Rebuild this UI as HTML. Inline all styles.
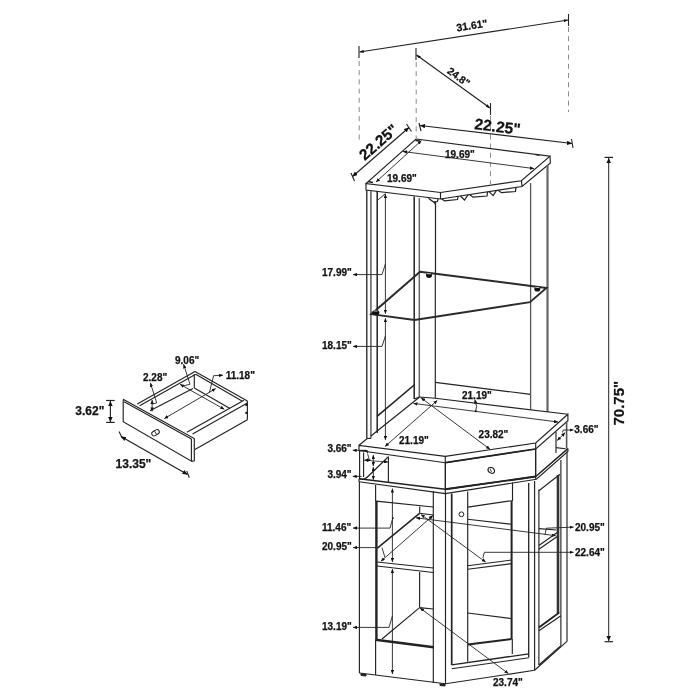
<!DOCTYPE html>
<html><head><meta charset="utf-8"><style>
html,body{margin:0;padding:0;background:#fff;width:700px;height:700px;overflow:hidden}
svg{display:block}
text{font-family:"Liberation Sans",sans-serif;font-weight:bold;fill:#111;stroke:#111;stroke-width:0.25;letter-spacing:0px}
.tx{opacity:0.995}
</style></head><body>
<svg width="700" height="700" viewBox="0 0 700 700">
<defs>
<marker id="ar" viewBox="0 0 10 10" refX="10" refY="5" markerWidth="5" markerHeight="4.5" markerUnits="userSpaceOnUse" orient="auto-start-reverse" preserveAspectRatio="none"><path d="M0,0 L10,5 L0,10 z" fill="#111"/></marker>
<marker id="at" viewBox="0 0 10 10" refX="10" refY="5" markerWidth="4.2" markerHeight="3.2" markerUnits="userSpaceOnUse" orient="auto-start-reverse" preserveAspectRatio="none"><path d="M0,0 L10,5 L0,10 z" fill="#111"/></marker>
<marker id="as" viewBox="0 0 10 10" refX="10" refY="5" markerWidth="4" markerHeight="3.5" markerUnits="userSpaceOnUse" orient="auto-start-reverse" preserveAspectRatio="none"><path d="M0,0 L10,5 L0,10 z" fill="#111"/></marker>
</defs>
<g fill="none" stroke="#222" stroke-width="1.15" stroke-linejoin="miter">

<!-- ============ TOP DIMENSIONS ============ -->
<g stroke="#666" stroke-dasharray="5,4.2" stroke-width="0.75">
<line x1="359.2" y1="61" x2="359.2" y2="142"/>
<line x1="416.2" y1="62" x2="416.2" y2="138"/>
<line x1="568.5" y1="27" x2="568.5" y2="112"/>
<line x1="490.5" y1="116" x2="490.5" y2="184"/>
</g>
<g stroke-width="1.1">
<line x1="359" y1="46" x2="359" y2="58"/>
<line x1="568.5" y1="14" x2="568.5" y2="26"/>
<line x1="416" y1="48" x2="416" y2="60"/>
<line x1="490.5" y1="103" x2="490.5" y2="115"/>
<line x1="351" y1="173" x2="354.5" y2="181"/>
<line x1="406.5" y1="124" x2="411.5" y2="131.5"/>
<line x1="419" y1="123" x2="421" y2="131"/>
<line x1="571.5" y1="139" x2="573" y2="148"/>
</g>
<line x1="359.5" y1="52" x2="568" y2="20" marker-start="url(#at)" marker-end="url(#at)"/>
<line x1="416.5" y1="55" x2="490" y2="108" marker-start="url(#at)" marker-end="url(#at)"/>
<line x1="352.5" y1="176.5" x2="409" y2="127.5" marker-start="url(#ar)" marker-end="url(#ar)"/>
<line x1="420" y1="125.5" x2="572" y2="143.5" marker-start="url(#ar)" marker-end="url(#ar)"/>

<!-- ============ TOP SHELF ============ -->
<path d="M416,139 L550,156.2 L521.4,180.7 L440.5,192.5 L366,183.6 Z"/>
<path d="M366,183.6 L366,190 L440.5,199 L522,186.5 L550.4,162.9 L550,156.2"/>
<line x1="440.5" y1="192.5" x2="440.5" y2="199"/>
<line x1="521.4" y1="180.7" x2="522" y2="186.5"/>
<line x1="376" y1="182" x2="421.5" y2="140.5" marker-start="url(#as)" marker-end="url(#as)" stroke-width="0.9"/>
<line x1="403" y1="151.5" x2="534" y2="168.6" marker-start="url(#as)" marker-end="url(#as)" stroke-width="0.9"/>
<path d="M368,181.5 L373,182.5 M415.5,140.5 L420,141 M535.5,154.5 L539.5,155.2" stroke-width="1.6"/>
<!-- wine rack -->
<g stroke-width="1.2">
<path d="M428.5,198.3 L433.5,202 L437.5,201.5 L438,198.8"/>
<path d="M434,202 L435.5,204.5"/>
<line x1="435.5" y1="201" x2="435.5" y2="273"/>
<path d="M441.5,198.8 L444.5,200.8 L457.5,199.5 L458.2,196.3"/>
<path d="M460.5,196 L464.5,200 L468,194.9"/>
<path d="M469.5,194.6 L473,197.2 L487,196 L487.6,191.8"/>
<path d="M489,191.6 L493.2,195.6 L496.5,190.4"/>
<path d="M498,190.2 L501.5,192.7 L515.5,191.5 L516,187.4"/>
</g>

<!-- ============ HUTCH POSTS ============ -->
<line x1="366.8" y1="190" x2="366.8" y2="438.4" stroke-width="1.3"/>
<line x1="370.9" y1="190.5" x2="370.9" y2="438.4" stroke="#666" stroke-width="1.6"/>
<line x1="377.2" y1="191" x2="377.2" y2="433" stroke-width="1.5"/>
<line x1="366.8" y1="438.4" x2="370.9" y2="438.4"/>
<line x1="377" y1="200.7" x2="385.5" y2="193.6" stroke-width="0.9"/>
<!-- 17.99 / 18.15 dim -->
<line x1="385.4" y1="194" x2="385.4" y2="313.7" stroke-width="0.9" marker-start="url(#as)" marker-end="url(#as)"/>
<line x1="385.4" y1="318.2" x2="385.4" y2="440" stroke-width="0.9" marker-start="url(#as)" marker-end="url(#as)"/>
<path d="M385.4,264 L382,274.6 L353,274.6" stroke-width="0.9" marker-end="url(#as)"/>
<path d="M385.4,336 L382,346.4 L353,346.4" stroke-width="0.9" marker-end="url(#as)"/>
<!-- middle post -->
<line x1="414.2" y1="196.4" x2="414.2" y2="399" stroke-width="1.5"/>
<line x1="419.3" y1="198" x2="419.3" y2="397" stroke="#666" stroke-width="1.5"/>
<line x1="435.3" y1="273" x2="435.3" y2="398.3"/>
<line x1="377" y1="416.4" x2="414.2" y2="385" stroke-width="1.6"/>
<line x1="435.3" y1="382.4" x2="530.7" y2="394.4"/>
<!-- right posts -->
<line x1="530.6" y1="183" x2="530.6" y2="410" stroke="#555" stroke-width="1.3"/>
<line x1="547.5" y1="165" x2="547.5" y2="412" stroke="#666" stroke-width="2.2"/>

<!-- glass shelf -->
<path d="M420,271.7 L546.4,288 L530,302.1 L414.5,320 L371.2,314.2 Z" stroke-width="1.9" stroke="#2a2a2a"/>
<g fill="#111" stroke="none">
<ellipse cx="429" cy="275.3" rx="3" ry="2.6"/>
<ellipse cx="537.3" cy="289" rx="3" ry="2.6"/>
<ellipse cx="375.8" cy="312.6" rx="3.6" ry="2.6"/>
<path d="M427,273.6 L431,273.8 M535.3,287.3 L539.3,287.5 M373.5,310.9 L377.5,311.1" stroke="#ddd" stroke-width="0.9"/>
</g>

<!-- ============ COUNTER ============ -->
<path d="M359,445.3 L367,438.8 M370.9,436 L419.3,397.3"/>
<path d="M414.2,399 L419.3,397 L435.3,398.3 L567.9,414.3"/>
<path d="M567.9,414.3 L535.7,443 L445.3,456.3 L359,445.5 L359,450.5 L445.3,462.7 L535.7,449 L567.9,420.7 Z"/>
<line x1="445.3" y1="456.3" x2="445.3" y2="462.7"/>
<line x1="535.7" y1="443" x2="535.7" y2="449"/>
<!-- counter dims -->
<line x1="413.5" y1="403.4" x2="558" y2="422" stroke-width="0.9" marker-start="url(#as)" marker-end="url(#as)"/>
<line x1="437.3" y1="400.4" x2="385" y2="446.5" stroke-width="0.9" marker-start="url(#as)" marker-end="url(#as)"/>
<line x1="421" y1="397.8" x2="490" y2="449.3" stroke-width="0.9" marker-start="url(#as)" marker-end="url(#as)"/>
<path d="M475.7,411 L476.6,406.5 L474.8,399.5" stroke-width="0.9" marker-end="url(#as)"/>
<circle cx="475.7" cy="411.2" r="1" fill="#111" stroke="none"/>

<!-- drawer & under counter -->
<path d="M445.3,462.7 L445.3,489.3 M535.7,449 L535.7,477" stroke-width="1.4"/>
<line x1="445.3" y1="462.7" x2="535.7" y2="449" stroke-width="1.7"/>
<line x1="445.3" y1="489.3" x2="535.7" y2="476.5" stroke-width="1.9"/>
<line x1="512.5" y1="482.5" x2="512.5" y2="501"/>
<path d="M359,478.7 L445.3,489.3 L535.7,476.5 L567.9,448.6" stroke-width="1.4"/>
<path d="M359,481.8 L445.3,493.6 L536.4,479.3 L567.9,451.4 L567.9,448.6"/>
<line x1="359" y1="478.7" x2="359" y2="481.8"/>
<line x1="445.3" y1="489.3" x2="445.3" y2="493.6"/>
<line x1="535.7" y1="476.5" x2="535.7" y2="479.3"/>
<!-- knob -->
<path d="M488.5,468 Q487,470.5 489.5,472.5 L492.5,473.5 Q495,473 494.5,470.5 Q494,468 491,467.3 Z" stroke-width="1.1"/>
<path d="M490,468.5 L491.5,472" stroke-width="0.8"/>
<!-- left under-counter open section -->
<line x1="359.6" y1="451" x2="359.6" y2="479"/>
<line x1="363.6" y1="452.5" x2="363.6" y2="477"/>
<path d="M359,450.6 L367,450.6 L367.5,453"/>
<path d="M359.6,478.7 Q364,481 369,475.5 L388.1,457" stroke-width="1.2"/>
<line x1="388.4" y1="456.4" x2="388.4" y2="482"/>
<line x1="373.3" y1="455" x2="373.3" y2="466" stroke-width="0.9" marker-start="url(#as)" marker-end="url(#as)"/>
<line x1="373.3" y1="467" x2="373.3" y2="479.8" stroke-width="0.9" marker-start="url(#as)" marker-end="url(#as)"/>
<line x1="364.2" y1="460.2" x2="371" y2="460.2" stroke-width="0.9" marker-start="url(#as)" marker-end="url(#as)"/>
<line x1="371" y1="460.8" x2="388" y2="462" stroke-width="0.8" marker-end="url(#as)"/>
<path d="M367.6,453.6 L369.3,460.1" stroke-width="0.9"/>
<path d="M352.7,450.3 L366.4,450.3" stroke-width="0.9" marker-start="url(#as)"/>
<path d="M352.7,476.4 L361.7,476.4" stroke-width="0.9" marker-start="url(#as)"/>
<!-- right under-counter -->
<line x1="556" y1="431.7" x2="556" y2="453"/>
<line x1="566.6" y1="421.5" x2="566.6" y2="448.5" stroke="#555" stroke-width="1.6"/>
<line x1="556" y1="447.6" x2="565.6" y2="448.8"/>
<path d="M563.2,430 L573.5,430" stroke-width="0.9" marker-end="url(#as)"/>
<line x1="565.2" y1="432.6" x2="557.2" y2="440.5" stroke-width="0.9" marker-start="url(#as)" marker-end="url(#as)"/>
<line x1="563.2" y1="430" x2="562.5" y2="432.5" stroke-width="0.9"/>

<!-- ============ LOWER CABINET ============ -->
<!-- left wing -->
<line x1="359.4" y1="481.5" x2="359.4" y2="673"/>
<line x1="375.6" y1="485" x2="375.6" y2="501"/>
<line x1="375.6" y1="640" x2="375.6" y2="675"/>
<line x1="376.4" y1="501" x2="376.4" y2="641" stroke-width="2.4"/>
<line x1="376" y1="501.1" x2="433.3" y2="507"/>
<line x1="375.5" y1="639.8" x2="433.8" y2="647.2" stroke-width="2.5"/>
<line x1="433.3" y1="491" x2="433.3" y2="683"/>
<path d="M359.4,673 L445.5,683.8"/>
<path d="M361,673.5 L361,675.5 L366,676 L366,674" stroke-width="1" fill="#222"/>
<!-- left interior -->
<line x1="377" y1="562" x2="433.3" y2="568"/>
<line x1="377" y1="566" x2="433.3" y2="572.5"/>
<path d="M419.7,506.4 L419.7,513.3 L433.3,515"/>
<line x1="377.4" y1="548.1" x2="419.5" y2="513.3" stroke-width="1.5"/>
<line x1="419.6" y1="572" x2="419.6" y2="607.6"/>
<line x1="419.6" y1="607.6" x2="433.3" y2="609"/>
<line x1="382" y1="639" x2="419.6" y2="607.6"/>
<!-- 11.46 / 13.19 dim -->
<line x1="392.4" y1="488.5" x2="392.4" y2="562" stroke-width="0.9" marker-start="url(#as)" marker-end="url(#as)"/>
<line x1="392.4" y1="569" x2="392.4" y2="674" stroke-width="0.9" marker-start="url(#as)" marker-end="url(#as)"/>
<path d="M392.9,518 L390,528.1 L353,528.1" stroke-width="0.9" marker-end="url(#as)"/>
<circle cx="392.9" cy="517.9" r="0.9" fill="#222" stroke="none"/>
<path d="M392.4,616 L389,627.4 L353,627.4" stroke-width="0.9" marker-end="url(#as)"/>
<path d="M377.5,547.6 L353,547.6" stroke-width="0.9" marker-end="url(#as)"/>
<line x1="380.9" y1="561.3" x2="432.9" y2="515.6" stroke-width="0.9" marker-start="url(#as)" marker-end="url(#as)"/>
<line x1="382" y1="547.6" x2="384.9" y2="557.3" stroke-width="0.9"/>
<!-- 20.95/22.64/23.74 dims -->
<line x1="421" y1="514.5" x2="485.7" y2="562.1" stroke-width="0.9" marker-start="url(#as)" marker-end="url(#as)"/>
<line x1="416" y1="517.8" x2="555.7" y2="535.7" stroke-width="0.9" marker-start="url(#as)" marker-end="url(#as)"/>
<line x1="420" y1="608" x2="508.4" y2="673.6" stroke-width="0.9" marker-start="url(#as)" marker-end="url(#as)"/>
<path d="M482.9,557.9 L484.3,552.3 L573.6,552.3" stroke-width="0.9" marker-end="url(#as)"/>
<path d="M545,534.3 L546.4,528.2 L573.6,527.1" stroke-width="0.9" marker-end="url(#as)"/>

<!-- front door -->
<line x1="445.5" y1="493.6" x2="445.5" y2="683.8"/>
<line x1="451.7" y1="493.6" x2="451.7" y2="665" stroke-width="1.7"/>
<line x1="467.7" y1="491.4" x2="467.7" y2="661.8"/>
<line x1="511.6" y1="500.7" x2="511.6" y2="639" stroke-width="2"/>
<line x1="512.3" y1="639" x2="512.3" y2="654"/>
<line x1="528.7" y1="482.9" x2="528.7" y2="657.5" stroke-width="1.3"/>
<line x1="534.6" y1="481" x2="534.6" y2="670.3"/>
<line x1="467.7" y1="507.1" x2="511.6" y2="500.7"/>
<line x1="467.7" y1="519.3" x2="511.6" y2="524.3"/>
<line x1="467.7" y1="565.7" x2="511.6" y2="560"/>
<line x1="467.7" y1="569.3" x2="511.6" y2="563.6"/>
<line x1="467.7" y1="613" x2="511" y2="618.5"/>
<line x1="468" y1="644.5" x2="511.6" y2="639" stroke-width="2"/>
<line x1="451.7" y1="664.9" x2="528.7" y2="653.9" stroke-width="1.4"/>
<line x1="451.7" y1="668.8" x2="528.7" y2="657.8"/>
<line x1="445.5" y1="683.8" x2="534.6" y2="670.3"/>
<circle cx="461.4" cy="514.3" r="2.4" stroke-width="1"/>
<path d="M440,683.5 L440,685.5 L445,686 L445,684" stroke-width="1" fill="#222"/>

<!-- right wing -->
<line x1="538.9" y1="489.5" x2="538.9" y2="665"/>
<line x1="558" y1="475" x2="558" y2="613" stroke-width="2.6" stroke="#333"/>
<line x1="560.9" y1="460" x2="560.9" y2="645.7"/>
<line x1="567" y1="451.4" x2="567" y2="641.4"/>
<line x1="534.6" y1="670.3" x2="567" y2="641.4"/>
<line x1="538.9" y1="665" x2="560.9" y2="645.7"/>
<line x1="538.9" y1="490.7" x2="560" y2="474.3"/>
<line x1="538.9" y1="627.5" x2="559.3" y2="612.5" stroke-width="1.8"/>
<line x1="538.9" y1="630.7" x2="560.9" y2="615.7"/>
<line x1="538.9" y1="528.6" x2="556.4" y2="530"/>
<line x1="538.9" y1="549.3" x2="558" y2="536" stroke-width="1.2"/>
<line x1="538.9" y1="545.5" x2="558" y2="532"/>

<!-- ============ 70.75 ============ -->
<line x1="604.6" y1="157.4" x2="613" y2="157.4" stroke-width="1.2"/>
<line x1="604.6" y1="641.7" x2="613" y2="641.7" stroke-width="1.2"/>
<line x1="608.7" y1="158" x2="608.7" y2="641" stroke-width="1" marker-start="url(#ar)" marker-end="url(#ar)"/>

<!-- ============ LEFT DRAWER ============ -->
<!-- 3.62 -->
<line x1="106.1" y1="400.5" x2="114.7" y2="400.5" stroke-width="1.2"/>
<line x1="106.1" y1="422.4" x2="114.7" y2="422.4" stroke-width="1.2"/>
<line x1="110.4" y1="401" x2="110.4" y2="422" marker-start="url(#ar)" marker-end="url(#ar)"/>
<!-- 13.35 -->
<line x1="119" y1="431.4" x2="122.4" y2="438.3" stroke-width="1.1"/>
<line x1="186.7" y1="470.9" x2="189.3" y2="477.7" stroke-width="1.1"/>
<line x1="121" y1="436.6" x2="187.5" y2="474.5" marker-start="url(#ar)" marker-end="url(#ar)"/>
<!-- front panel -->
<path d="M123.2,400 L123.6,399.4 L194.3,438.6 L194.3,460.9 L191.9,461.4 L123.2,421.7 Z"/>
<line x1="124.1" y1="401.7" x2="191.4" y2="439" />
<line x1="191.4" y1="439" x2="191.4" y2="461"/>
<!-- knob -->
<rect x="151.5" y="430.5" width="8" height="4.5" rx="2.2" transform="rotate(-30 155.5 432.7)" stroke-width="1"/>
<line x1="155.5" y1="430" x2="155.5" y2="435.5" transform="rotate(-30 155.5 432.7)" stroke-width="0.8"/>
<!-- box left side -->
<line x1="137.3" y1="404" x2="195" y2="371.4"/>
<line x1="139.6" y1="405.7" x2="195.7" y2="374.3"/>
<line x1="150" y1="410.7" x2="192.9" y2="388.6"/>
<line x1="194.3" y1="374.3" x2="194.3" y2="388"/>
<!-- back panel -->
<line x1="195" y1="371.4" x2="247.4" y2="401.1"/>
<line x1="195.7" y1="374.3" x2="242" y2="401"/>
<line x1="194.3" y1="388" x2="230" y2="408.6"/>
<!-- right side -->
<line x1="186.9" y1="432.3" x2="244" y2="400.3"/>
<line x1="192.6" y1="434" x2="247.4" y2="403"/>
<line x1="194.9" y1="449.4" x2="247.4" y2="419.7"/>
<line x1="247.4" y1="401.1" x2="247.4" y2="419.7"/>
<circle cx="246.3" cy="404.9" r="1.1" fill="#111" stroke="none"/>
<circle cx="246.3" cy="412.9" r="1.1" fill="#111" stroke="none"/>
<!-- inner dims -->
<line x1="164.3" y1="418.6" x2="215.7" y2="388.6" stroke-width="0.9" marker-start="url(#as)" marker-end="url(#as)"/>
<line x1="180" y1="384.3" x2="224.3" y2="409.3" stroke-width="0.9" marker-start="url(#as)" marker-end="url(#as)"/>
<line x1="152.1" y1="400" x2="152.1" y2="411.4" stroke-width="0.9" marker-start="url(#as)" marker-end="url(#as)"/>
<path d="M150.4,382.9 L156.7,402.9 L152.5,404" stroke-width="0.9" marker-start="url(#as)"/>
<path d="M183.6,364.3 L190,384.3 L182,386.2" stroke-width="0.9" marker-start="url(#as)"/>
<path d="M209.3,392.9 L213.6,375.7 L223,375.2" stroke-width="0.9" marker-end="url(#as)"/>
</g>

<!-- ============ TEXT ============ -->
<g class="tx">
<text font-size="10.5" transform="translate(457,31.5) rotate(-9)">31.61"</text>
<text font-size="10.3" transform="translate(446.5,72.5) rotate(36)">24.8"</text>
<text font-size="15.3" transform="translate(364.8,161) rotate(-41)">22.25"</text>
<text font-size="15.5" transform="translate(474,129) rotate(7.2)">22.25"</text>
<text x="387" y="181.5" font-size="10">19.69"</text>
<text font-size="10" transform="translate(445,158) rotate(0)">19.69"</text>
<text x="322" y="276.4" font-size="10">17.99"</text>
<text x="322" y="348.6" font-size="10">18.15"</text>
<text x="462" y="398.6" font-size="10">21.19"</text>
<text x="399" y="444" font-size="10">21.19"</text>
<text x="478.6" y="437.9" font-size="10">23.82"</text>
<text x="327.4" y="452.1" font-size="10">3.66"</text>
<text x="327.4" y="477.8" font-size="10">3.94"</text>
<text x="574.3" y="432.9" font-size="10">3.66"</text>
<text x="322" y="531" font-size="10">11.46"</text>
<text x="322" y="550" font-size="10">20.95"</text>
<text x="322" y="630" font-size="10">13.19"</text>
<text x="575" y="530.7" font-size="10">20.95"</text>
<text x="575" y="555.7" font-size="10">22.64"</text>
<text x="493" y="685.7" font-size="10">23.74"</text>
<text font-size="15" transform="translate(623.8,425.5) rotate(-90)">70.75"</text>
<text x="75.3" y="415.3" font-size="12">3.62"</text>
<text x="115.6" y="468" font-size="12">13.35"</text>
<text x="143" y="380.6" font-size="10">2.28"</text>
<text x="175" y="363.6" font-size="10">9.06"</text>
<text x="225.7" y="378.6" font-size="10">11.18"</text>
</g>
</svg>
</body></html>
